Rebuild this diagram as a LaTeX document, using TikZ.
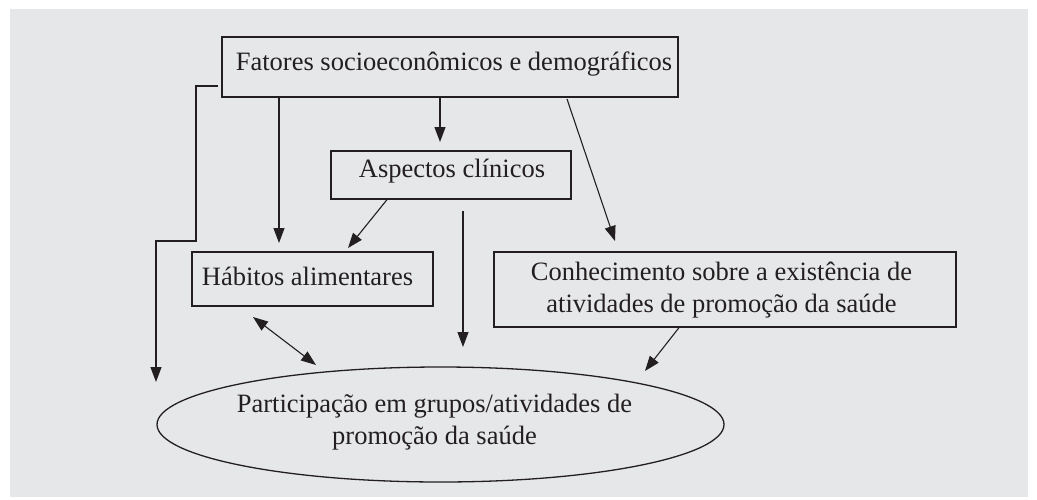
\documentclass[tikz,border=0pt]{standalone}
\usepackage{fontspec}
\setmainfont{Liberation Serif}
\usetikzlibrary{arrows.meta,shapes.geometric}
\definecolor{bg}{RGB}{230,231,233}
\definecolor{ink}{RGB}{35,31,32}
\begin{document}
\begin{tikzpicture}[x=1pt,y=-1pt,
  lbl/.style={font=\fontsize{26.5}{32}\selectfont,text=ink,inner sep=0pt,align=center},
  box/.style={draw=ink,line width=1.3pt,fill=bg,inner sep=0pt,lbl},
  arr/.style={draw=ink,line width=1.1pt,-{Triangle[length=15pt,width=11pt]}},
  darr/.style={draw=ink,line width=1.1pt,{Triangle[length=15pt,width=11pt]}-{Triangle[length=15pt,width=11pt]}},
]
\useasboundingbox (0,0) rectangle (1037,499);
\fill[white] (0,0) rectangle (1037,499);
\fill[bg] (10,9) rectangle (1028,497);
\node[box,minimum width=456pt,minimum height=60pt] (top) at (450,67) {};
\node[lbl] (topt) at (454,64) {Fatores socioeconômicos e demográficos};
\node[box,minimum width=240pt,minimum height=48pt] (asp) at (451,175) {};
\node[lbl] (aspt) at (452,171) {Aspectos clínicos};
\node[box,minimum width=241pt,minimum height=54pt] (hab) at (312.5,279) {};
\node[lbl] (habt) at (307.5,276) {Hábitos alimentares};
\node[box,minimum width=462pt,minimum height=75pt] (con) at (725,289.5) {};
\node[lbl] (cont) at (721.5,290) {Conhecimento sobre a existência de\\atividades de promoção da saúde};
\node[box,ellipse,minimum width=567pt,minimum height=115pt] (par) at (440.5,424.5) {};
\node[lbl] (part) at (434.5,422) {Participação em grupos/atividades de\\promoção da saúde};
% free ends
\coordinate (b0) at (218,86);
\coordinate (b1) at (156,382);
\coordinate (e1) at (279,243);
\coordinate (e2) at (440,142);
\coordinate (s3) at (567,99);
\coordinate (e3) at (615,241);
\coordinate (e4) at (348,248);
\coordinate (s5) at (463,211);
\coordinate (e5) at (463,347);
\coordinate (e6) at (645,371);
\coordinate (d1) at (253,317);
\coordinate (d2) at (316,365);
% connectors
\draw[arr] (b0) -- (196,86) -- (196,241) -- (156,241) -- (b1);
\draw[arr] (top.south -| e1) -- (e1);
\draw[arr] (top.south -| e2) -- (e2);
\draw[arr] (s3) -- (e3);
\draw[arr] (asp.south -| 387,0) -- (e4);
\draw[arr] (s5) -- (e5);
\draw[arr] (con.south -| 679,0) -- (e6);
\draw[darr] (d1) -- (d2);
\end{tikzpicture}
\end{document}
